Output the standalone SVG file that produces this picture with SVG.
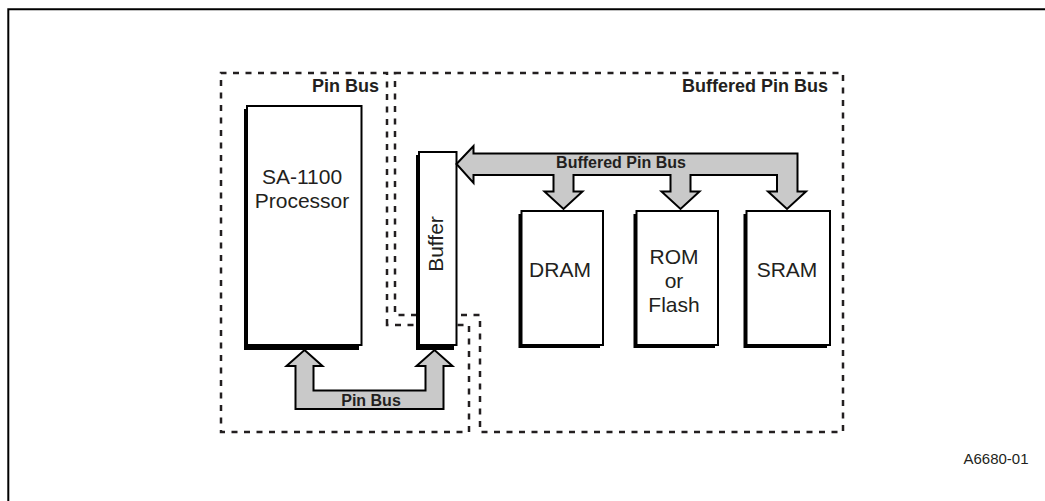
<svg xmlns="http://www.w3.org/2000/svg" width="1045" height="501" viewBox="0 0 1045 501">
  <style>
    .frame { fill: none; stroke: #000; stroke-width: 2; }
    .region { fill: none; stroke: #231f20; stroke-width: 2.5; stroke-dasharray: 6 6.5; }
    .shadow { fill: #000; stroke: none; }
    .box { fill: #fff; stroke: #000; stroke-width: 2; }
    .bus { fill: #c9c9c9; stroke: #000; stroke-width: 2; stroke-linejoin: miter; }
    .t { font-family: "Liberation Sans", Arial, Helvetica, sans-serif; fill: #231f20; }
    .node { font-size: 21px; text-anchor: middle; }
    .rlabel { font-size: 18px; font-weight: bold; text-anchor: end; }
    .blabel { font-size: 16px; font-weight: bold; text-anchor: middle; }
    .fig { font-size: 15px; text-anchor: end; }
  </style>

  <rect x="0" y="0" width="1045" height="501" fill="#fff"/>
  <path class="frame" d="M8.3,502 V9.3 H1046"/>

  <g id="region-pin-bus">
    <path class="region" d="M387,325 V73 H221 V432 H469 V325 Z"/>
    <text class="t rlabel" x="379" y="92">Pin Bus</text>
  </g>

  <g id="region-buffered-pin-bus">
    <path class="region" d="M395,73 H843 V432 H480 V315 H395 Z"/>
    <text class="t rlabel" x="828" y="92">Buffered Pin Bus</text>
  </g>

  <g id="processor">
    <rect class="shadow" x="244" y="109" width="115" height="241"/>
    <rect class="box" x="247" y="106" width="114.5" height="239"/>
    <text class="t node" x="302" y="184">SA-1100</text>
    <text class="t node" x="302" y="208">Processor</text>
  </g>

  <g id="buffer">
    <rect class="shadow" x="416" y="155" width="38" height="195"/>
    <rect class="box" x="419" y="152" width="37.5" height="193"/>
    <text class="t node" transform="translate(443,244) rotate(-90)" x="0" y="0">Buffer</text>
  </g>

  <g id="dram">
    <rect class="shadow" x="518.5" y="214" width="81.5" height="134"/>
    <rect class="box" x="521.5" y="211" width="81.5" height="134"/>
    <text class="t node" x="560" y="277">DRAM</text>
  </g>

  <g id="rom">
    <rect class="shadow" x="633.5" y="214" width="81.5" height="134"/>
    <rect class="box" x="636.5" y="211" width="81.5" height="134"/>
    <text class="t node" x="674" y="264">ROM</text>
    <text class="t node" x="674" y="288">or</text>
    <text class="t node" x="674" y="312">Flash</text>
  </g>

  <g id="sram">
    <rect class="shadow" x="743.5" y="214" width="83.5" height="134"/>
    <rect class="box" x="746.5" y="211" width="83.5" height="134"/>
    <text class="t node" x="787" y="277">SRAM</text>
  </g>

  <g id="connectors">
    <g id="pin-bus">
      <path class="bus" d="M304.5,350 L322.5,366 H313.5 V390.5 H425.5 V366 H416.5 L434.5,350 L452.5,366 H443.5 V409 H295.5 V366 H286.5 Z"/>
      <text class="t blabel" x="371" y="406">Pin Bus</text>
    </g>
    <g id="buffered-pin-bus">
      <path class="bus" d="M456.5,164 L473.5,146 V153.5 H797.5 V191.5 H806 L787,209 L768,191.5 H777 V175 H690.5 V191.5 H699.5 L680.5,209 L661.5,191.5 H670.5 V175 H573.5 V191.5 H582.5 L563.5,209 L544.5,191.5 H553.5 V175 H473.5 V183 Z"/>
      <text class="t blabel" x="621" y="167.5">Buffered Pin Bus</text>
    </g>
  </g>

  <text class="t fig" x="1028.5" y="464">A6680-01</text>
</svg>
